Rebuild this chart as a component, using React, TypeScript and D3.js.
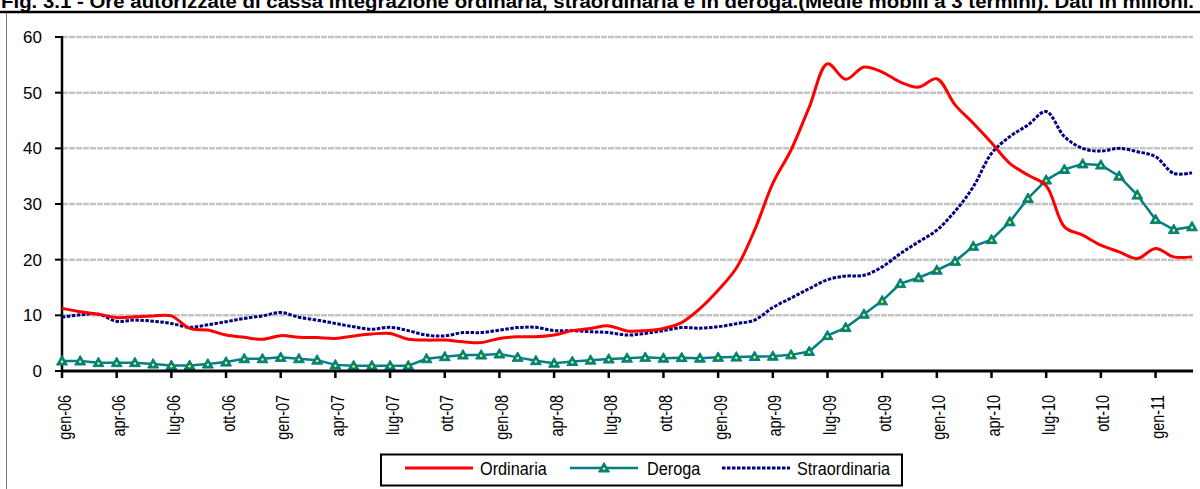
import React from "react";
import * as d3 from "d3";

const monthNames = ["gen", "feb", "mar", "apr", "mag", "giu", "lug", "ago", "set", "ott", "nov", "dic"];
const months: string[] = [];
for (let y = 6; y <= 11; y++) {
  for (let m = 0; m < 12; m++) {
    if (y === 11 && m > 2) break;
    months.push(`${monthNames[m]}-${String(y).padStart(2, "0")}`);
  }
}

const ordinaria = [
  11.25, 10.65, 10.2, 9.6, 9.75, 9.9, 9.9, 7.65, 7.35, 6.45, 6.05, 5.7, 6.35, 6.05, 6.0, 5.85, 6.3, 6.65, 6.75, 5.7, 5.55,
  5.55, 5.25, 5.1, 5.85, 6.15, 6.15, 6.45, 7.25, 7.65, 8.1, 7.2, 7.25, 7.65, 8.7, 11.2, 14.5, 18.5, 25.3, 33.7, 39.7, 47.4,
  55.2, 52.4, 54.6, 53.7, 51.9, 51.0, 52.5, 47.8, 44.5, 41, 37.3, 35.2, 33.3, 25.9, 24.4, 22.6, 21.4, 20.2, 22.0, 20.5, 20.5,
];
const deroga = [
  1.8, 1.8, 1.5, 1.5, 1.5, 1.25, 1.0, 1.0, 1.25, 1.6, 2.2, 2.2, 2.45, 2.2, 1.95, 1.1, 0.95, 0.95, 0.95, 0.95, 2.2,
  2.57, 2.87, 2.87, 3.05, 2.45, 1.85, 1.4, 1.7, 1.95, 2.15, 2.3, 2.45, 2.3, 2.4, 2.3, 2.45, 2.5, 2.6, 2.65, 2.9, 3.5,
  6.35, 7.8, 10.2, 12.6, 15.7, 16.75, 18.1, 19.7, 22.4, 23.6, 26.8, 31.0, 34.3, 36.2, 37.2, 37.0, 35.0, 31.6, 27.2, 25.4, 25.9,
];
const straordinaria = [
  9.65, 10.1, 10.2, 8.95, 9.15, 8.95, 8.55, 7.85, 8.3, 8.85, 9.45, 9.9, 10.5, 9.65, 9.15, 8.55, 7.95, 7.5, 7.85, 7.25, 6.45,
  6.3, 6.9, 6.9, 7.35, 7.8, 7.85, 7.25, 7.25, 7.05, 6.9, 6.45, 6.75, 7.25, 7.8, 7.7, 7.95, 8.5, 9.15, 11.4, 13.1, 14.8, 16.4,
  17.05, 17.2, 18.7, 21.1, 23.2, 25.3, 28.7, 33.1, 39.1, 42.1, 44.2, 46.6, 42.1, 40.0, 39.5, 40.0, 39.4, 38.5, 35.5, 35.6,
];
const yTicks = [0, 10, 20, 30, 40, 50, 60];

const title =
  "Fig. 3.1 - Ore autorizzate di cassa integrazione ordinaria, straordinaria e in deroga.(Medie mobili a 3 termini). Dati in milioni.";

const font = "'Liberation Sans', Arial, sans-serif";

// text squeezed along its own direction (Arial Narrow look)
const Label = ({ x, y, size, sx = 1, anchor = "start", rotate = 0, children }: any) => (
  <text
    transform={`translate(${x},${y}) rotate(${rotate}) scale(${sx},1)`}
    fontSize={size}
    textAnchor={anchor}
    fill="#000"
  >
    {children}
  </text>
);

const Triangle = ({ x, y }: { x: number; y: number }) => (
  <g transform={`translate(${x},${y})`}>
    <path d="M0,-5.5L5.5,4L-5.5,4Z" fill="#008080" stroke="#008080" strokeWidth={1} />
    <circle cx={0} cy={0.8} r={1.3} fill="#ffff00" />
  </g>
);

export default function App() {
  const W = 1200;
  const H = 489;
  const x = d3.scalePoint<string>().domain(months).range([62, 1192]);
  const y = d3.scaleLinear().domain([0, 60]).range([371, 37]);

  const smooth = d3
    .line<number>()
    .x((_, i) => x(months[i])!)
    .y((d) => y(d))
    .curve(d3.curveCatmullRom.alpha(0.5));
  const straight = d3
    .line<number>()
    .x((_, i) => x(months[i])!)
    .y((d) => y(d));

  const tickMonths = months.filter((_, i) => i % 3 === 0);

  return (
    <svg width={W} height={H} style={{ position: "absolute", left: 0, top: 0, background: "#fff" }} fontFamily={font}>
      <text x={1} y={8} fontSize={18} fontWeight="bold" textLength={1193} lengthAdjust="spacingAndGlyphs">
        {title}
      </text>
      <line x1={0} x2={W} y1={12} y2={12} stroke="#000" strokeWidth={2.5} />
      <line x1={6.5} x2={6.5} y1={13} y2={H} stroke="#777" strokeWidth={1} />

      {/* grid */}
      {yTicks.slice(1).map((t) => (
        <line key={t} x1={62} x2={1193} y1={y(t)} y2={y(t)} stroke="#c4c4c4" strokeWidth={2.5} strokeDasharray="6,1" />
      ))}

      {/* y axis */}
      <line x1={62} x2={62} y1={y(60) - 1} y2={372} stroke="#000" strokeWidth={2.5} />
      {yTicks.map((t) => (
        <g key={t}>
          <line x1={55} x2={62} y1={y(t)} y2={y(t)} stroke="#000" strokeWidth={2} />
          <Label x={42} y={y(t) + 6} size={17} anchor="end">
            {t}
          </Label>
        </g>
      ))}

      {/* series */}
      <path d={straight(deroga)!} fill="none" stroke="#008080" strokeWidth={2.5} />
      {deroga.map((d, i) => (
        <Triangle key={i} x={x(months[i])!} y={y(d)} />
      ))}
      <path d={smooth(straordinaria)!} fill="none" stroke="#000080" strokeWidth={3} strokeDasharray="3.5,1.5" />
      <path d={smooth(ordinaria)!} fill="none" stroke="#ff0000" strokeWidth={3} />

      {/* x axis */}
      <line x1={61} x2={1193} y1={371} y2={371} stroke="#000" strokeWidth={3} />
      {tickMonths.map((m) => (
        <g key={m}>
          <line x1={x(m)!} x2={x(m)!} y1={371} y2={378} stroke="#000" strokeWidth={2.5} />
          <Label x={x(m)! + 8.5} y={395} size={18} sx={0.8} anchor="end" rotate={-90}>
            {m}
          </Label>
        </g>
      ))}

      {/* legend */}
      <rect x={381} y={454.5} width={521} height={31} fill="#fff" stroke="#000" strokeWidth={2} />
      <line x1={405} x2={473} y1={468} y2={468} stroke="#ff0000" strokeWidth={3} />
      <Label x={480} y={475} size={17.5} sx={0.93}>Ordinaria</Label>
      <line x1={570} x2={638} y1={468} y2={468} stroke="#008080" strokeWidth={2.5} />
      <Triangle x={604} y={468} />
      <Label x={647} y={475} size={17.5} sx={0.93}>Deroga</Label>
      <line x1={722} x2={790} y1={468} y2={468} stroke="#000080" strokeWidth={3} strokeDasharray="3.5,1.5" />
      <Label x={797} y={475} size={17.5} sx={0.93}>Straordinaria</Label>
    </svg>
  );
}
